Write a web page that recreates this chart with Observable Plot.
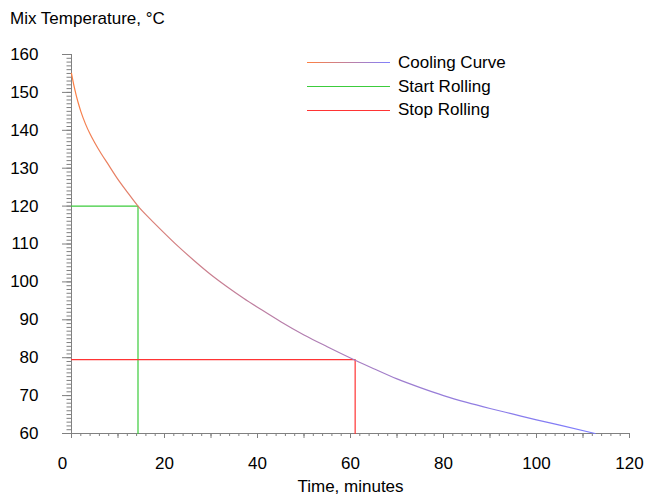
<!DOCTYPE html>
<html>
<head>
<meta charset="utf-8">
<script src="https://cdn.jsdelivr.net/npm/d3@7"></script>
<script src="https://cdn.jsdelivr.net/npm/@observablehq/plot@0.6"></script>
<style>
  body { margin: 0; background: #fff; }
  #wrap { position: relative; width: 646px; height: 494px; font-family: "Liberation Sans", Arial, sans-serif; color: #000; }
  #title { box-sizing: border-box; height: 36px; padding: 9px 0 0 10px; font-size: 17px; line-height: 20px; }
  #legend { position: absolute; left: 307px; top: 51px; font-size: 17px; }
  .row { display: flex; align-items: center; height: 23.67px; line-height: 23.67px; }
  .sw { width: 83px; height: 1px; margin-right: 8px; }
</style>
</head>
<body>
<div id="wrap">
  <div id="title">Mix Temperature, °C</div>
  <div id="chart"></div>
  <div id="legend"></div>
</div>
<script>
// Cooling curve (minutes, °C)
const times = [0, 0.5, 1, 1.5, 2, 3, 4, 5, 6.4, 8, 9.8, 12, 14.3, 17, 19.2, 23, 26.4, 30, 33.6, 37, 40.8, 45, 50, 55, 60.9, 65, 70, 75, 80, 85, 90, 95, 100, 105, 112.6];
const temps = [155, 151.9, 149.3, 147.0, 145.0, 141.7, 139.0, 136.7, 133.8, 130.8, 127.4, 123.7, 120, 116.5, 113.8, 109.3, 105.6, 101.9, 98.6, 95.7, 92.7, 89.5, 86.0, 82.9, 79.4, 77.1, 74.4, 72.1, 70.0, 68.2, 66.6, 65.1, 63.6, 62.2, 60];

// Start / stop rolling guide lines
const startX = [0, 14.3, 14.3];
const startY = [120, 120, 60];
const stopX = [0, 61, 61];
const stopY = [79.5, 79.5, 60];

// Axis ticks
const xLabelTicks = [20, 40, 60, 80, 100, 120];
const xMajorTicks = d3.range(0, 121, 10);
const xMinorTicks = d3.range(0, 121, 2);
const yLabelTicks = d3.range(60, 161, 10);
const yMinorTicks = d3.range(60, 161, 1);

// Legend
const legendNames = ["Cooling Curve", "Start Rolling", "Stop Rolling"];
const legendColors = ["linear-gradient(to right, #ff8040, #8080ff)", "#3ccc3c", "#ff3434"];

const curve = times.map((t, i) => ({t, v: temps[i]}));
const start = startX.map((t, i) => ({t, v: startY[i]}));
const stop = stopX.map((t, i) => ({t, v: stopY[i]}));

const axisGray = "#808080";
const blank = () => "";

const defs = () => {
  const d = d3.create("svg:defs");
  const g = d.append("linearGradient").attr("id", "coolGrad")
    .attr("x1", 0).attr("y1", 0).attr("x2", 1).attr("y2", 1);
  g.append("stop").attr("offset", "0%").attr("stop-color", "#ff8040");
  g.append("stop").attr("offset", "100%").attr("stop-color", "#7c7cff");
  return d.node();
};

const chart = Plot.plot({
  width: 646,
  height: 458,
  marginLeft: 71,
  marginRight: 17,
  marginTop: 18,
  marginBottom: 61,
  style: {fontFamily: "'Liberation Sans', Arial, sans-serif", fontSize: "17px", color: "#000", background: "#fff"},
  x: {domain: [0, 120]},
  y: {domain: [60, 160]},
  marks: [
    defs,
    Plot.ruleY([60], {stroke: axisGray}),
    Plot.ruleX([0], {stroke: axisGray}),
    Plot.axisX(xMinorTicks, {tickSize: 3, stroke: axisGray, tickFormat: blank, label: null}),
    Plot.axisX(xMajorTicks, {tickSize: 5, stroke: axisGray, tickFormat: blank, label: null}),
    Plot.axisX([0], {tickSize: 0, tickPadding: 23, dx: -9, label: null}),
    Plot.axisX(xLabelTicks, {tickSize: 5, tickPadding: 18, stroke: axisGray, label: "Time, minutes", labelAnchor: "center", labelArrow: "none"}),
    Plot.axisY(yMinorTicks, {tickSize: 4.5, stroke: axisGray, tickFormat: blank, label: null}),
    Plot.axisY(yLabelTicks, {tickSize: 9, tickPadding: 24, stroke: axisGray, label: null}),
    Plot.line(start, {x: "t", y: "v", stroke: "#3ccc3c", strokeWidth: 1.2}),
    Plot.line(stop, {x: "t", y: "v", stroke: "#ff3434", strokeWidth: 1.2}),
    Plot.line(curve, {x: "t", y: "v", stroke: "url(#coolGrad)", strokeWidth: 1.2, curve: "monotone-x"})
  ]
});
document.getElementById("chart").appendChild(chart);

const legend = d3.select("#legend");
legendNames.forEach((name, i) => {
  const row = legend.append("div").attr("class", "row");
  row.append("span").attr("class", "sw").style("background", legendColors[i]);
  row.append("span").text(name);
});
</script>
</body>
</html>
